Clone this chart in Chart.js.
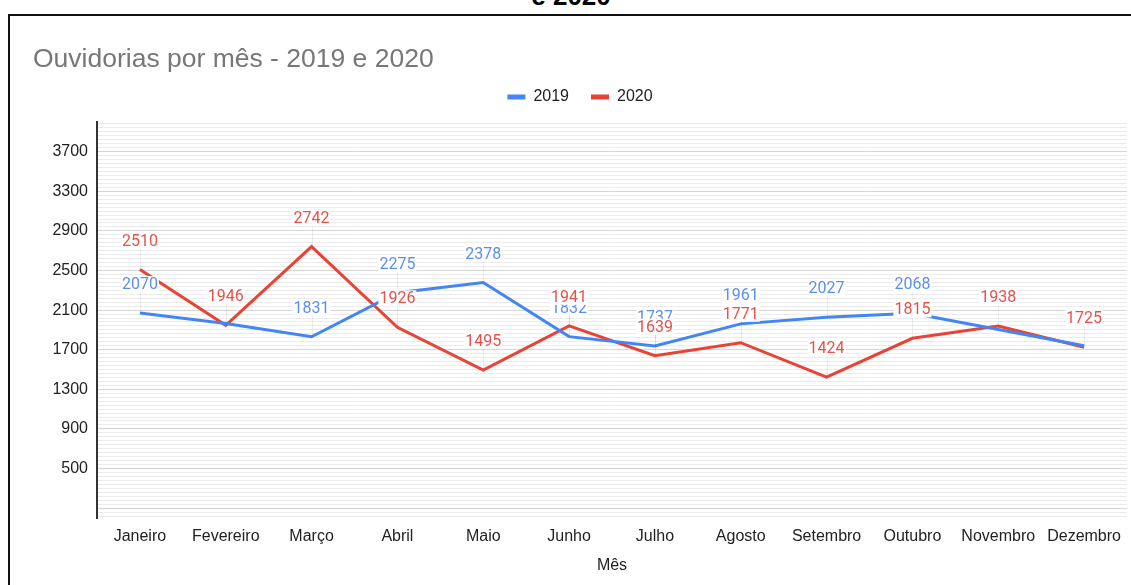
<!DOCTYPE html>
<html><head><meta charset="utf-8">
<script src="https://cdn.jsdelivr.net/npm/chart.js@4/dist/chart.umd.min.js"></script>
<style>
html,body{margin:0;padding:0;width:1131px;height:585px;overflow:hidden;background:#fff;}
#frame{position:absolute;left:8px;top:14px;width:1140px;height:620px;border-left:2px solid #111;border-top:2px solid #111;box-sizing:border-box;}
#cut{position:absolute;left:0;width:1142px;top:-19px;text-align:center;font:bold 26px "Liberation Sans",Arial,sans-serif;color:#000;}
#wrap{position:absolute;left:0;top:0;width:1131px;height:585px;}
</style></head>
<body>
<div id="cut">e 2020</div>
<div id="frame"></div>
<div id="wrap"><canvas id="c" width="1131" height="585"></canvas></div>
<script>
const months = ["Janeiro","Fevereiro","Março","Abril","Maio","Junho","Julho","Agosto","Setembro","Outubro","Novembro","Dezembro"];
const values2019 = [2070,1965,1831,2275,2378,1832,1737,1961,2027,2068,1905,1740];
const values2020 = [2510,1946,2742,1926,1495,1941,1639,1771,1424,1815,1938,1725];
const showLabel2019 = [true,false,true,true,true,true,true,true,true,true,false,false];
const showLabel2020 = [true,true,true,true,true,true,true,true,true,true,true,true];
const yMajorTicks = [500,900,1300,1700,2100,2500,2900,3300,3700];
const yMin = 0, yMax = 4000, yMinorStep = 40, yMinorStart = 20;

const BLUE = '#4285F4', RED = '#EA4335';
const LABEL_BLUE = '#5a8fef', LABEL_RED = '#e4524a';
const AXIS_FONT = '"Liberation Sans", Arial, sans-serif';

const labelPlugin = {
  id: 'pointLabels',
  beforeLayout(chart) {
    const lg = chart.legend;
    if (lg && !lg._extraPatched) {
      const orig = lg.fit.bind(lg);
      lg.fit = function () { orig(); this.height += 7; };
      lg._extraPatched = true;
    }
  },
  afterDatasetsDraw(chart) {
    const ctx = chart.ctx;
    const flags = [showLabel2019, showLabel2020];
    const colors = [LABEL_BLUE, LABEL_RED];
    ctx.save();
    ctx.font = '16px Roboto, "Liberation Sans", sans-serif';
    ctx.textAlign = 'center';
    ctx.textBaseline = 'middle';
    chart.data.datasets.forEach((ds, di) => {
      const meta = chart.getDatasetMeta(di);
      meta.data.forEach((pt, i) => {
        if (!flags[di][i]) return;
        const txt = String(ds.data[i]);
        const w = ctx.measureText(txt).width;
        const cy = pt.y - 29;
        ctx.strokeStyle = 'rgba(0,0,0,0.07)';
        ctx.lineWidth = 1;
        ctx.beginPath();
        ctx.moveTo(Math.round(pt.x)+0.5, cy + 8);
        ctx.lineTo(Math.round(pt.x)+0.5, pt.y);
        ctx.stroke();
        ctx.fillStyle = '#fff';
        ctx.fillRect(pt.x - w/2 - 1, cy - 8, w + 2, 16);
        ctx.fillStyle = colors[di];
        ctx.fillText(txt, pt.x, cy + 1);
      });
    });
    ctx.restore();
  }
};

new Chart(document.getElementById('c'), {
  type: 'line',
  data: {
    labels: months,
    datasets: [
      { label: '2019', data: values2019, borderColor: BLUE, backgroundColor: BLUE, borderWidth: 3, pointRadius: 0, tension: 0 },
      { label: '2020', data: values2020, borderColor: RED, backgroundColor: RED, borderWidth: 3, pointRadius: 0, tension: 0 }
    ]
  },
  options: {
    responsive: false,
    animation: false,
    layout: { padding: { top: 30, left: 33, right: 4, bottom: 0 } },
    plugins: {
      tooltip: { enabled: false },
      title: {
        display: true, text: 'Ouvidorias por mês - 2019 e 2020', align: 'start',
        color: '#777777', font: { family: AXIS_FONT, size: 26.5, weight: 'normal' },
        padding: { top: 14.2, bottom: -9 }
      },
      legend: {
        display: true, position: 'top', align: 'center',
        labels: {
          boxWidth: 18, boxHeight: 5, padding: 22, color: '#222',
          font: { family: AXIS_FONT, size: 16 },
          generateLabels(chart) {
            return chart.data.datasets.map((ds, i) => ({
              text: ds.label, fillStyle: ds.borderColor, strokeStyle: ds.borderColor,
              lineWidth: 0, hidden: false, datasetIndex: i, fontColor: '#222'
            }));
          }
        }
      }
    },
    scales: {
      x: {
        offset: true,
        grid: { display: false },
        border: { display: false },
        ticks: { color: '#222', font: { family: AXIS_FONT, size: 16 }, padding: 1, maxRotation: 0, autoSkip: false },
        title: { display: true, text: 'Mês', color: '#222', font: { family: AXIS_FONT, size: 16 }, padding: { top: 4, bottom: 10 } },
        afterFit(scale) { scale.height = 67; }
      },
      y: {
        min: yMin, max: yMax,
        afterBuildTicks(scale) {
          const t = [];
          for (let v = yMinorStart; v <= yMax; v += yMinorStep) t.push({ value: v });
          scale.ticks = t;
        },
        afterFit(scale) { scale.width = 64; },
        border: { display: true, color: '#333', width: 2 },
        grid: {
          drawTicks: false,
          color(ctx) {
            const v = ctx.tick && ctx.tick.value;
            return yMajorTicks.includes(v) || v === 100 ? '#d6d6d6' : '#ececec';
          },
          lineWidth: 1
        },
        ticks: {
          autoSkip: false, padding: 9, color: '#222',
          font: { family: AXIS_FONT, size: 16 },
          callback(v) { return yMajorTicks.includes(v) ? String(v) : ''; }
        }
      }
    }
  },
  plugins: [labelPlugin]
});
</script>
</body></html>
